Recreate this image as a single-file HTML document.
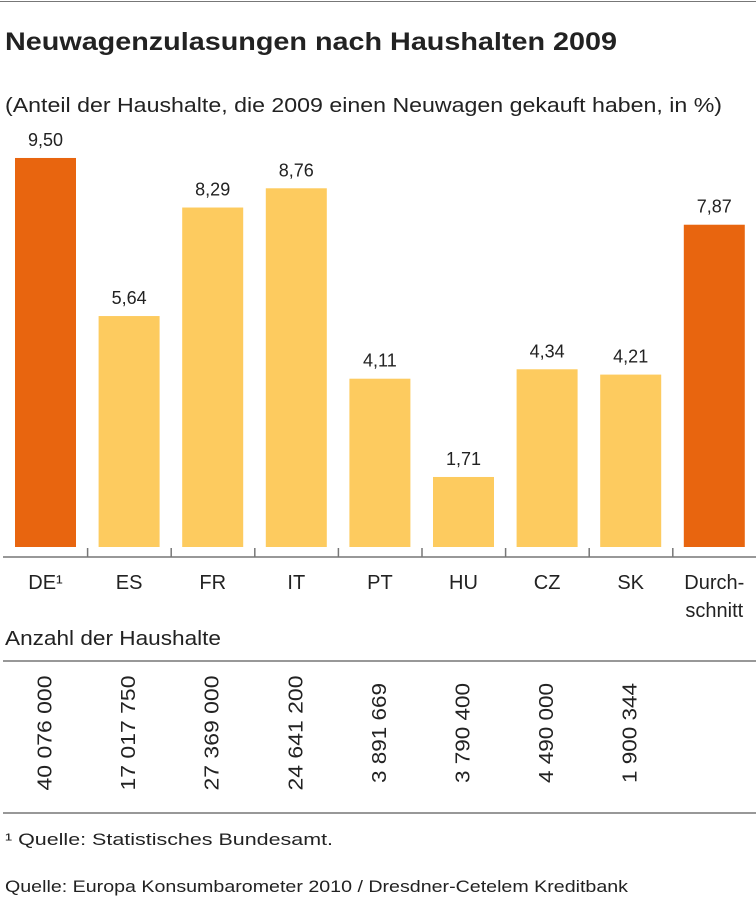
<!DOCTYPE html>
<html><head><meta charset="utf-8"><style>
body{margin:0;background:#fff;font-family:"Liberation Sans",sans-serif;color:#222}
svg text{font-family:"Liberation Sans",sans-serif;fill:#222}
</style></head><body>
<svg width="756" height="900">
<line x1="0" y1="1.5" x2="756" y2="1.5" stroke="#777" stroke-width="1"/>
<text x="5" y="50" font-size="25" font-weight="bold" textLength="612" lengthAdjust="spacingAndGlyphs">Neuwagenzulasungen nach Haushalten 2009</text>
<text x="5" y="112" font-size="20" textLength="717" lengthAdjust="spacingAndGlyphs">(Anteil der Haushalte, die 2009 einen Neuwagen gekauft haben, in %)</text>
<g id="bars"></g>
<line x1="3" y1="557" x2="756" y2="557" stroke="#777" stroke-width="1.5"/>
<text x="5" y="645" font-size="20" textLength="216" lengthAdjust="spacingAndGlyphs">Anzahl der Haushalte</text>
<line x1="3" y1="661" x2="756" y2="661" stroke="#777" stroke-width="1.5"/>
<line x1="3" y1="813" x2="756" y2="813" stroke="#777" stroke-width="1.5"/>
<text x="5" y="845" font-size="17" textLength="328" lengthAdjust="spacingAndGlyphs">¹ Quelle: Statistisches Bundesamt.</text>
<text x="5" y="892" font-size="17" textLength="623" lengthAdjust="spacingAndGlyphs">Quelle: Europa Konsumbarometer 2010 / Dresdner-Cetelem Kreditbank</text>
</svg>
<script>
const categories=["DE¹","ES","FR","IT","PT","HU","CZ","SK","Durch-|schnitt"];
const values=[9.50,5.64,8.29,8.76,4.11,1.71,4.34,4.21,7.87];
const households=["40 076 000","17 017 750","27 369 000","24 641 200","3 891 669","3 790 400","4 490 000","1 900 344",""];
const highlight=[true,false,false,false,false,false,false,false,true];
const NS="http://www.w3.org/2000/svg";
const g=document.getElementById("bars");
const x0=15,step=83.6,bw=61,base=547,scale=40.95;
const y=v=>base-v*scale;
function mk(t,a){const e=document.createElementNS(NS,t);for(const k in a)e.setAttribute(k,a[k]);g.appendChild(e);return e;}
values.forEach((v,i)=>{
 const x=x0+i*step;
 const r=mk("rect",{x:x,y:y(v),width:bw,height:base-y(v),fill:highlight[i]?"#E8650F":"#FDCB5F"});
 
 
 const t=mk("text",{x:x+bw/2,y:y(v)-12,"font-size":18,"text-anchor":"middle"});
 t.textContent=v.toFixed(2).replace(".",",");
 
 
 categories[i].split("|").forEach((s,j)=>{
  const c=mk("text",{x:x+bw/2,y:589+j*28,"font-size":20,"text-anchor":"middle"});
  c.textContent=s;
  
  
 });
 if(i>0){const tk=mk("line",{x1:x-11,y1:548,x2:x-11,y2:557,stroke:"#777","stroke-width":1.5});
  
  }
 if(households[i]){
  const cx=x+bw/2-1;
  const len=households[i].length>=10?115:100;
  const h=mk("text",{x:cx,y:733,"font-size":20,"text-anchor":"middle",textLength:len,lengthAdjust:"spacingAndGlyphs",transform:`rotate(-90 ${cx} 733) translate(0 7)`});
  h.textContent=households[i];
  
  
 }
});
</script>
</body></html>
